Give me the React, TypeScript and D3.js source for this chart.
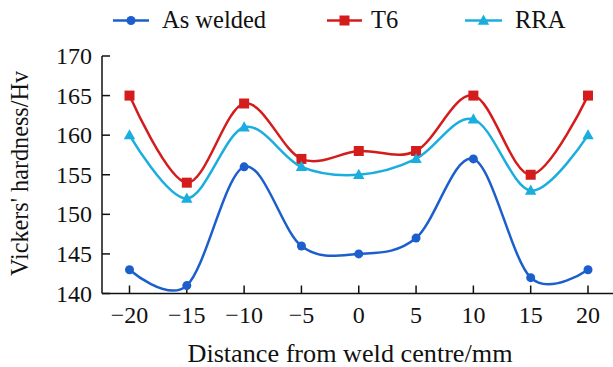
import React from "react";
import * as d3 from "d3";

const distances = [-20, -15, -10, -5, 0, 5, 10, 15, 20];
const asWelded = [143, 141, 156, 146, 145, 147, 157, 142, 143];
const t6 = [165, 154, 164, 157, 158, 158, 165, 155, 165];
const rra = [160, 152, 161, 156, 155, 157, 162, 153, 160];
const seriesNames = ["As welded", "T6", "RRA"];
const xTicks = [-20, -15, -10, -5, 0, 5, 10, 15, 20];
const yTicks = [140, 145, 150, 155, 160, 165, 170];

const W = 613, H = 367;
const FONT = "'Liberation Serif', 'Times New Roman', serif";

export default function App() {
  const x = d3.scaleLinear().domain([-20, 20]).range([129.5, 588]);
  const y = d3.scaleLinear().domain([140, 170]).range([293.5, 56]);
  const axisLeft = 102;
  const axisBottom = 293.5;

  const series = [
    { name: seriesNames[0], values: asWelded, color: "#1c5fcc", marker: "circle" },
    { name: seriesNames[1], values: t6, color: "#d41c1c", marker: "square" },
    { name: seriesNames[2], values: rra, color: "#1aaedf", marker: "triangle" },
  ];

  const line = d3
    .line<number>()
    .x((_, i) => x(distances[i]))
    .y((v) => y(v))
    .curve(d3.curveCardinal.tension(0));

  const marker = (type: string, cx: number, cy: number, color: string, key: any) => {
    if (type === "circle") return <circle key={key} cx={cx} cy={cy} r={4.5} fill={color} />;
    if (type === "square")
      return <rect key={key} x={cx - 5} y={cy - 5} width={10} height={10} fill={color} />;
    const s = 6;
    return (
      <path
        key={key}
        d={`M${cx},${cy - s} L${cx + s * 0.95},${cy + s * 0.7} L${cx - s * 0.95},${cy + s * 0.7} Z`}
        fill={color}
      />
    );
  };

  const legend = [
    { x0: 113, x1: 149, tx: 162 },
    { x0: 327, x1: 362, tx: 371 },
    { x0: 465, x1: 502, tx: 515 },
  ];

  return (
    <svg
      width={W}
      height={H}
      style={{ position: "absolute", left: 0, top: 0, background: "#fff" }}
      fontFamily={FONT}
    >
      {/* legend */}
      {series.map((s, i) => (
        <g key={s.name}>
          <line x1={legend[i].x0} x2={legend[i].x1} y1={20.5} y2={20.5} stroke={s.color} strokeWidth={2.5} />
          {marker(s.marker, (legend[i].x0 + legend[i].x1) / 2, 20.5, s.color, "m")}
          <text x={legend[i].tx} y={28} fontSize={24.5} fill="#111">
            {s.name}
          </text>
        </g>
      ))}

      {/* axes */}
      <line x1={axisLeft} x2={axisLeft} y1={56} y2={axisBottom} stroke="#111" strokeWidth={1.5} />
      <line x1={axisLeft} x2={613} y1={axisBottom} y2={axisBottom} stroke="#111" strokeWidth={1.5} />
      {yTicks.map((t) => (
        <g key={t}>
          <line x1={axisLeft} x2={axisLeft + 8} y1={y(t)} y2={y(t)} stroke="#111" strokeWidth={1.5} />
          <text x={axisLeft - 10} y={y(t) + 8} fontSize={24} textAnchor="end" fill="#111">
            {t}
          </text>
        </g>
      ))}
      {xTicks.map((t) => (
        <g key={t}>
          <line x1={x(t)} x2={x(t)} y1={axisBottom} y2={axisBottom - 8} stroke="#111" strokeWidth={1.5} />
          <text x={x(t)} y={axisBottom + 29.5} fontSize={24} textAnchor="middle" fill="#111">
            {t < 0 ? "\u2212" + Math.abs(t) : t}
          </text>
        </g>
      ))}
      <text x={350} y={361.5} fontSize={26.2} textAnchor="middle" fill="#111">
        Distance from weld centre/mm
      </text>
      <text
        transform={`translate(27.5,173.5) rotate(-90)`}
        fontSize={24.2}
        textAnchor="middle"
        fill="#111"
      >
        Vickers' hardness/Hv
      </text>

      {/* series */}
      {series.map((s) => (
        <g key={s.name}>
          <path d={line(s.values) || ""} fill="none" stroke={s.color} strokeWidth={2.5} />
          {s.values.map((v, i) => marker(s.marker, x(distances[i]), y(v), s.color, i))}
        </g>
      ))}
    </svg>
  );
}
